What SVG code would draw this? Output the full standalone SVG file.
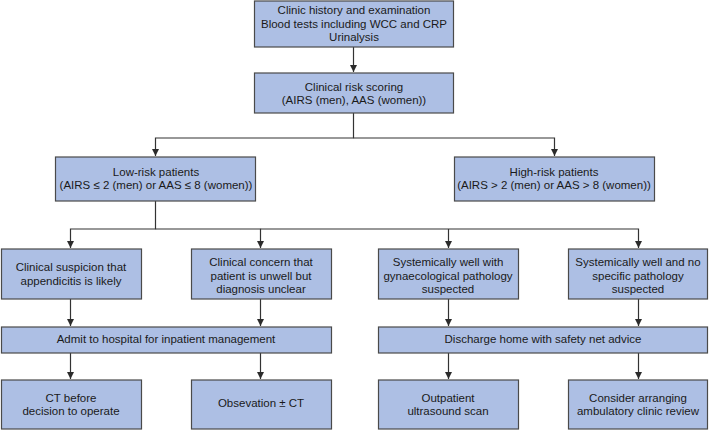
<svg xmlns="http://www.w3.org/2000/svg" width="709" height="430" viewBox="0 0 709 430">
<defs>
<marker id="ah" viewBox="0 0 7 7" refX="7" refY="3.5" markerWidth="7" markerHeight="7" markerUnits="userSpaceOnUse" orient="auto">
<path d="M0,0 L7,3.5 L0,7 z" fill="#2b2b2b"/>
</marker>
<style>
.box{fill:#adbfe4;stroke:#4a4a4a;stroke-width:1.2}
.t{font-family:"Liberation Sans",Arial,sans-serif;font-size:11.5px;fill:#1a1a1a;text-anchor:middle}
.c{fill:none;stroke:#333;stroke-width:1.2}
</style>
</defs>
<rect width="709" height="430" fill="#fff"/>
<g id="connectors">
<path class="c" d="M353.5,47 V72" marker-end="url(#ah)"/>
<path class="c" d="M353.5,113 V138 H155.5 V156" marker-end="url(#ah)"/>
<path class="c" d="M353.5,138 H554.5 V156" marker-end="url(#ah)"/>
<path class="c" d="M155.5,201 V229 H70.5 V248" marker-end="url(#ah)"/>
<path class="c" d="M155.5,229 H260.5 V248" marker-end="url(#ah)"/>
<path class="c" d="M260.5,229 H638.5 V248" marker-end="url(#ah)"/>
<path class="c" d="M448.5,229 V248" marker-end="url(#ah)"/>
<path class="c" d="M70.5,299 V326" marker-end="url(#ah)"/>
<path class="c" d="M260.5,299 V326" marker-end="url(#ah)"/>
<path class="c" d="M448.5,299 V326" marker-end="url(#ah)"/>
<path class="c" d="M638.5,299 V326" marker-end="url(#ah)"/>
<path class="c" d="M70.5,353 V379" marker-end="url(#ah)"/>
<path class="c" d="M260.5,353 V379" marker-end="url(#ah)"/>
<path class="c" d="M448.5,353 V379" marker-end="url(#ah)"/>
<path class="c" d="M638.5,353 V379" marker-end="url(#ah)"/>
</g>
<g id="n-history">
<rect class="box" x="254.5" y="1" width="199" height="46"/>
<text class="t" x="354" y="14">Clinic history and examination</text>
<text class="t" x="354" y="28">Blood tests including WCC and CRP</text>
<text class="t" x="354" y="41">Urinalysis</text>
</g>
<g id="n-risk">
<rect class="box" x="254.5" y="73" width="199" height="40"/>
<text class="t" x="354" y="91">Clinical risk scoring</text>
<text class="t" x="354" y="104">(AIRS (men), AAS (women))</text>
</g>
<g id="n-low">
<rect class="box" x="55.5" y="157" width="200" height="44"/>
<text class="t" x="156" y="176">Low-risk patients</text>
<text class="t" x="156" y="189">(AIRS ≤ 2 (men) or AAS ≤ 8 (women))</text>
</g>
<g id="n-high">
<rect class="box" x="454.5" y="157" width="200" height="44"/>
<text class="t" x="554" y="176">High-risk patients</text>
<text class="t" x="554" y="189">(AIRS &gt; 2 (men) or AAS &gt; 8 (women))</text>
</g>
<g id="n-appendicitis">
<rect class="box" x="1.5" y="249" width="140" height="50"/>
<text class="t" x="71" y="271">Clinical suspicion that</text>
<text class="t" x="71" y="285">appendicitis is likely</text>
</g>
<g id="n-concern">
<rect class="box" x="191.5" y="249" width="140" height="50"/>
<text class="t" x="261" y="266">Clinical concern that</text>
<text class="t" x="261" y="280">patient is unwell but</text>
<text class="t" x="261" y="293">diagnosis unclear</text>
</g>
<g id="n-gynae">
<rect class="box" x="378.5" y="249" width="140" height="50"/>
<text class="t" x="448" y="266">Systemically well with</text>
<text class="t" x="448" y="280">gynaecological pathology</text>
<text class="t" x="448" y="293">suspected</text>
</g>
<g id="n-nospecific">
<rect class="box" x="568.5" y="249" width="139" height="50"/>
<text class="t" x="638" y="266">Systemically well and no</text>
<text class="t" x="638" y="280">specific pathology</text>
<text class="t" x="638" y="293">suspected</text>
</g>
<g id="n-admit">
<rect class="box" x="1.5" y="327" width="330" height="26"/>
<text class="t" x="166" y="343">Admit to hospital for inpatient management</text>
</g>
<g id="n-discharge">
<rect class="box" x="378.5" y="327" width="329" height="26"/>
<text class="t" x="543" y="343">Discharge home with safety net advice</text>
</g>
<g id="n-ct">
<rect class="box" x="1.5" y="380" width="140" height="49"/>
<text class="t" x="71" y="402">CT before</text>
<text class="t" x="71" y="415">decision to operate</text>
</g>
<g id="n-obs">
<rect class="box" x="191.5" y="380" width="140" height="49"/>
<text class="t" x="261" y="407">Obsevation ± CT</text>
</g>
<g id="n-us">
<rect class="box" x="378.5" y="380" width="140" height="49"/>
<text class="t" x="448" y="402">Outpatient</text>
<text class="t" x="448" y="415">ultrasound scan</text>
</g>
<g id="n-ambulatory">
<rect class="box" x="568.5" y="380" width="139" height="49"/>
<text class="t" x="638" y="402">Consider arranging</text>
<text class="t" x="638" y="415">ambulatory clinic review</text>
</g>
</svg>
